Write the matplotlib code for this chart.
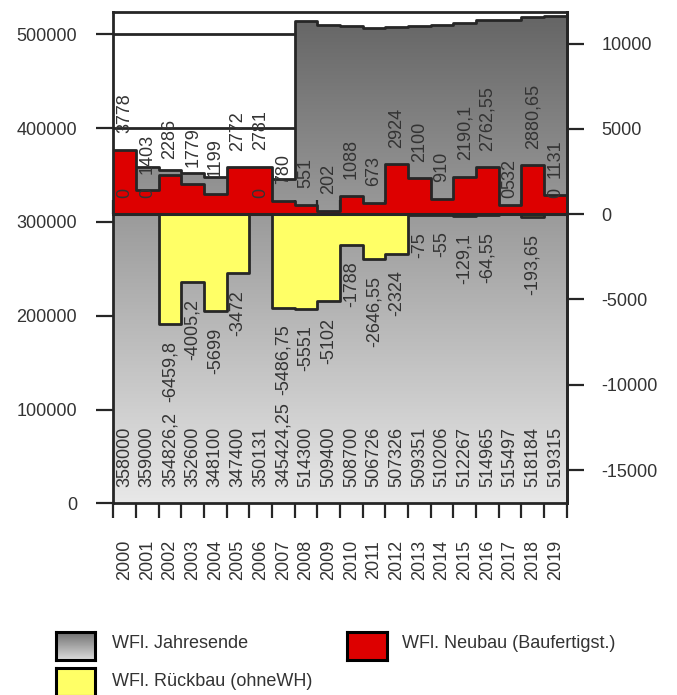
import numpy as np
import matplotlib
matplotlib.use("Agg")
import matplotlib.pyplot as plt
from matplotlib.colors import LinearSegmentedColormap

plt.rcParams['font.family'] = ['Liberation Sans', 'DejaVu Sans']

years = [str(y) for y in range(2000, 2020)]
jahresende = [358000, 359000, 354826.2, 352600, 348100, 347400, 350131, 345424.25,
              514300, 509400, 508700, 506726, 507326, 509351, 510206, 512267,
              514965, 515497, 518184, 519315]
neubau = [3778, 1403, 2286, 1779, 1199, 2772, 2781, 780, 551, 202, 1088, 673,
          2924, 2100, 910, 2190.1, 2762.55, 532, 2880.65, 1131]
rueckbau = [0, 0, -6459.8, -4005.2, -5699, -3472, 0, -5486.75, -5551, -5102,
            -1788, -2646.55, -2324, -75, -55, -129.1, -64.55, 0, -193.65, 0]

left_ticks = [0, 100000, 200000, 300000, 400000, 500000]
right_ticks = [-15000, -10000, -5000, 0, 5000, 10000]

EDGE = '#262626'
TXT = '#333333'
RED = '#dd0000'
YEL = '#ffff66'
FS = 13


def fmt(v):
    s = ('%.2f' % v).rstrip('0').rstrip('.')
    if s == '-0':
        s = '0'
    return s.replace('.', ',')


n = len(years)
centers = np.arange(n)
edges = np.arange(n + 1) - 0.5

fig = plt.figure(figsize=(6.77, 6.95), dpi=100)
ax1 = fig.add_axes([113.3 / 677, 1 - 503.3 / 695, (566.7 - 113.3) / 677, (503.3 - 11.7) / 695])
ax2 = ax1.twinx()

y1max = 524100
ax1.set_xlim(edges[0], edges[-1])
ax1.set_ylim(0, y1max)
ax2.set_ylim(-16950, 11870)

# gray step area with gradient
gray_ext = np.append(jahresende, jahresende[-1])
fill = ax1.fill_between(edges, 0, gray_ext, step='post', facecolor='none', edgecolor='none')
cmap = LinearSegmentedColormap.from_list('g', ['#e8e8e8', '#646464'])
grad = np.linspace(0, 1, 256).reshape(-1, 1)
im = ax1.imshow(grad, extent=[edges[0], edges[-1], 0, y1max], origin='lower',
                aspect='auto', cmap=cmap, zorder=1, interpolation='bilinear')
im.set_clip_path(fill.get_paths()[0], transform=ax1.transData)
ax1.step(edges, gray_ext, where='post', color=EDGE, lw=2, zorder=2)
ax1.set_xlim(edges[0], edges[-1])
ax1.set_ylim(0, y1max)

ax1.set_axisbelow(True)
ax1.yaxis.grid(True, color=EDGE, lw=2)

for i, v in enumerate(jahresende):
    ax1.annotate(fmt(v), (centers[i], 0), xytext=(0, 11.5), textcoords='offset points',
                 rotation=90, ha='center', va='bottom', fontsize=FS, color=TXT, zorder=3)

# red and yellow step areas
neu_ext = np.append(neubau, neubau[-1])
rb_ext = np.append(rueckbau, rueckbau[-1])
ax2.fill_between(edges, 0, rb_ext, step='post', facecolor=YEL, edgecolor=EDGE, lw=2, zorder=2)
ax2.fill_between(edges, 0, neu_ext, step='post', facecolor=RED, edgecolor=EDGE, lw=2, zorder=2)

for i, v in enumerate(neubau):
    ax2.annotate(fmt(v), (centers[i], v), xytext=(0, 11.8), textcoords='offset points',
                 rotation=90, ha='center', va='bottom', fontsize=FS, color=TXT, zorder=5)
for i, v in enumerate(rueckbau):
    if v < 0:
        ax2.annotate(fmt(v), (centers[i], v), xytext=(0, -11.8), textcoords='offset points',
                     rotation=90, ha='center', va='top', fontsize=FS, color=TXT, zorder=5)
    else:
        ax2.annotate(fmt(v), (centers[i], v), xytext=(0, 11.5), textcoords='offset points',
                     rotation=90, ha='center', va='bottom', fontsize=FS, color=TXT, zorder=5)

# axes / ticks
ax1.set_yticks(left_ticks)
ax1.set_yticklabels([str(t) for t in left_ticks])
ax1.set_xticks(edges)
ax1.set_xticklabels([])
ax1.set_xticks(centers, minor=True)
ax1.set_xticklabels(years, minor=True, rotation=90)
ax1.tick_params(axis='y', length=12, width=1.6, pad=14, labelsize=FS, labelcolor=TXT, color=EDGE)
ax1.tick_params(axis='x', which='major', length=11, width=1.6, color=EDGE)
ax1.tick_params(axis='x', which='minor', length=0, pad=26.5, labelsize=FS, labelcolor=TXT)

ax2.set_yticks(right_ticks)
ax2.set_yticklabels([str(t) for t in right_ticks])
ax2.tick_params(axis='y', length=12, width=1.6, pad=13, labelsize=FS, labelcolor=TXT, color=EDGE)

ax2.xaxis.set_visible(True)
ax2.spines['bottom'].set_position(('data', 0))
ax2.spines['bottom'].set_linewidth(2.2)
ax2.spines['bottom'].set_color(EDGE)
ax2.spines['bottom'].set_zorder(4)
ax2.tick_params(axis='x', which='major', direction='in', length=10, width=1.6,
                color=EDGE, labelbottom=False)
ax2.tick_params(axis='x', which='minor', length=0, labelbottom=False)
for s in ['top', 'left']:
    ax2.spines[s].set_visible(False)
ax2.spines['right'].set_linewidth(2)
ax2.spines['right'].set_color(EDGE)
for s in ax1.spines.values():
    s.set_linewidth(2)
    s.set_color(EDGE)
ax1.spines['top'].set_zorder(4)

# legend
def swatch(x0, y0, w, h, color=None, gradient=False):
    a = fig.add_axes([x0 / 677, 1 - (y0 + h) / 695, w / 677, h / 695])
    if gradient:
        a.imshow(np.linspace(0, 1, 64).reshape(-1, 1), aspect='auto', origin='lower',
                 cmap=LinearSegmentedColormap.from_list('l', ['#dcdcdc', '#707070']),
                 extent=[0, 1, 0, 1], interpolation='bilinear')
    else:
        a.set_facecolor(color)
    a.set_xticks([])
    a.set_yticks([])
    for s in a.spines.values():
        s.set_linewidth(2.2)
        s.set_color('black')
    return a

swatch(56, 632, 39, 27.5, gradient=True)
swatch(346.7, 632, 40, 27.5, color=RED)
swatch(56, 668.5, 39, 27.5, color=YEL)
fig.text(111.7 / 677, 1 - 643 / 695, 'WFl. Jahresende', fontsize=FS, color=TXT, va='center', ha='left')
fig.text(401.7 / 677, 1 - 643 / 695, 'WFl. Neubau (Baufertigst.)', fontsize=FS, color=TXT, va='center', ha='left')
fig.text(111.7 / 677, 1 - 681 / 695, 'WFl. Rückbau (ohneWH)', fontsize=FS, color=TXT, va='center', ha='left')

fig.savefig('out.png', dpi=100)
